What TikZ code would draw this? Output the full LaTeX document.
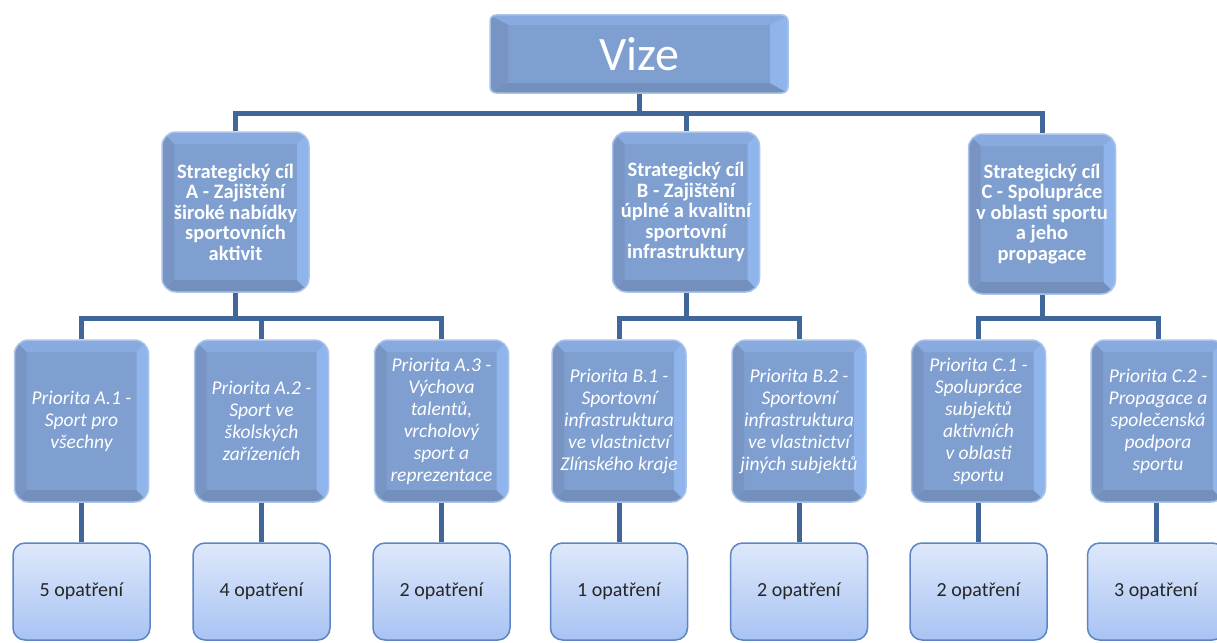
\documentclass[tikz,border=0pt]{standalone}
\usepackage{fontspec}
\setmainfont{Carlito}
\definecolor{linec}{HTML}{41679A}
\definecolor{basec}{HTML}{7E9FCF}
\definecolor{bevT}{HTML}{88AADF}
\definecolor{bevR}{HTML}{90B5EC}
\definecolor{bevB}{HTML}{7390BD}
\definecolor{bevL}{HTML}{7794C3}
\definecolor{glowc}{HTML}{A9C3EA}
\definecolor{optT}{HTML}{DEE8FB}
\definecolor{optB}{HTML}{A8C3F3}
\definecolor{optD}{HTML}{5B85C5}
\tikzset{
  conn/.style={draw=linec, line width=5pt, line join=miter},
  bev/.style 2 args={
    path picture={
      \path (path picture bounding box.north west) coordinate (NW)
            (path picture bounding box.north east) coordinate (NE)
            (path picture bounding box.south west) coordinate (SW)
            (path picture bounding box.south east) coordinate (SE);
      \path ([shift={(#1,-#2)}]NW) coordinate (iNW)
            ([shift={(-#1,-#2)}]NE) coordinate (iNE)
            ([shift={(#1,#2)}]SW) coordinate (iSW)
            ([shift={(-#1,#2)}]SE) coordinate (iSE);
      \fill[bevT, sharp corners] (NW) -- (NE) -- (iNE) -- (iNW) -- cycle;
      \fill[bevB, sharp corners] (SW) -- (SE) -- (iSE) -- (iSW) -- cycle;
      \fill[bevL, sharp corners] (NW) -- (SW) -- (iSW) -- (iNW) -- cycle;
      \fill[bevR, sharp corners] (NE) -- (SE) -- (iSE) -- (iNE) -- cycle;
    }
  },
  vizebox/.style={rectangle, rounded corners=6pt, fill=basec, draw=glowc, line width=1.5pt,
    minimum width=298pt, minimum height=78pt, text=white, bev={18pt}{10pt},
    font=\fontsize{48}{50}\selectfont},
  cilbox/.style={rectangle, rounded corners=14pt, fill=basec, draw=glowc, line width=1.5pt,
    minimum width=147pt, minimum height=160pt, text=white, align=center, inner sep=2pt,
    bev={12pt}{12pt}, font=\bfseries\fontsize{20.5}{20.5}\selectfont},
  pribox/.style={rectangle, rounded corners=14pt, fill=basec, draw=glowc, line width=1.5pt,
    minimum width=134pt, minimum height=162pt, text=white, align=center, inner sep=2pt,
    bev={12pt}{12pt}, font=\itshape\fontsize{19.5}{22}\selectfont},
  optbox/.style={rectangle, rounded corners=12pt, top color=optT, bottom color=optB,
    draw=optD, line width=1.5pt, minimum width=137pt, minimum height=97pt,
    text={black!85}, font=\fontsize{20}{22}\selectfont},
}
\begin{document}
\begin{tikzpicture}[x=1pt, y=-1pt]
\useasboundingbox (0,0) rectangle (1217,642);
\clip (0,0) rectangle (1217,642);
% level 1
\node[vizebox] (vize) at (639,54) {Vize};
% level 2
\node[cilbox] (cilA) at (235.5,212) {Strategický cíl\\A - Zajištění\\široké nabídky\\sportovních\\aktivit};
\node[cilbox] (cilB) at (686,212) {Strategický cíl\\B - Zajištění\\úplné a kvalitní\\sportovní\\infrastruktury};
\node[cilbox] (cilC) at (1042,214) {Strategický cíl\\C - Spolupráce\\v oblasti sportu\\a jeho\\propagace};
% level 3
\node[pribox] (pA1) at (81.5,421) {Priorita A.1 -\\Sport pro\\všechny};
\node[pribox] (pA2) at (261.5,421) {Priorita A.2 -\\Sport ve\\školských\\zařízeních};
\node[pribox] (pA3) at (441.5,421) {Priorita A.3 -\\Výchova\\talentů,\\vrcholový\\sport a\\reprezentace};
\node[pribox] (pB1) at (619,421) {Priorita B.1 -\\Sportovní\\infrastruktura\\ve vlastnictví\\Zlínského kraje};
\node[pribox] (pB2) at (799,421) {Priorita B.2 -\\Sportovní\\infrastruktura\\ve vlastnictví\\jiných subjektů};
\node[pribox] (pC1) at (978.5,421) {Priorita C.1 -\\Spolupráce\\subjektů\\aktivních\\v oblasti\\sportu};
\node[pribox] (pC2) at (1158,421) {Priorita C.2 -\\Propagace a\\společenská\\podpora\\sportu};
% level 4
\node[optbox] (oA1) at (81.5,591.5) {5 opatření};
\node[optbox] (oA2) at (261.5,591.5) {4 opatření};
\node[optbox] (oA3) at (441.5,591.5) {2 opatření};
\node[optbox] (oB1) at (619,591.5) {1 opatření};
\node[optbox] (oB2) at (799,591.5) {2 opatření};
\node[optbox] (oC1) at (978.5,591.5) {2 opatření};
\node[optbox] (oC2) at (1156,591.5) {3 opatření};
% bars
\coordinate (bar1) at (0,113);
\coordinate (bar2) at (0,318);
% connectors level 1-2
\draw[conn] (vize.south) -- (vize.south |- bar1);
\draw[conn] (cilA.north) |- (cilC.north |- bar1) -- (cilC.north);
\draw[conn] (cilB.north) -- (cilB.north |- bar1);
% level 2-3
\draw[conn] (cilA.south) -- (cilA.south |- bar2);
\draw[conn] (pA1.north) |- (pA3.north |- bar2) -- (pA3.north);
\draw[conn] (pA2.north) -- (pA2.north |- bar2);
\draw[conn] (cilB.south) -- (cilB.south |- bar2);
\draw[conn] (pB1.north) |- (pB2.north |- bar2) -- (pB2.north);
\draw[conn] (cilC.south) -- (cilC.south |- bar2);
\draw[conn] (pC1.north) |- (pC2.north |- bar2) -- (pC2.north);
% level 3-4
\foreach \n in {A1,A2,A3,B1,B2,C1}{
  \draw[conn] (p\n.south) -- (p\n.south |- o\n.north);
}
\draw[conn] (pC2.south -| oC2.north) -- (oC2.north);
\end{tikzpicture}
\end{document}
